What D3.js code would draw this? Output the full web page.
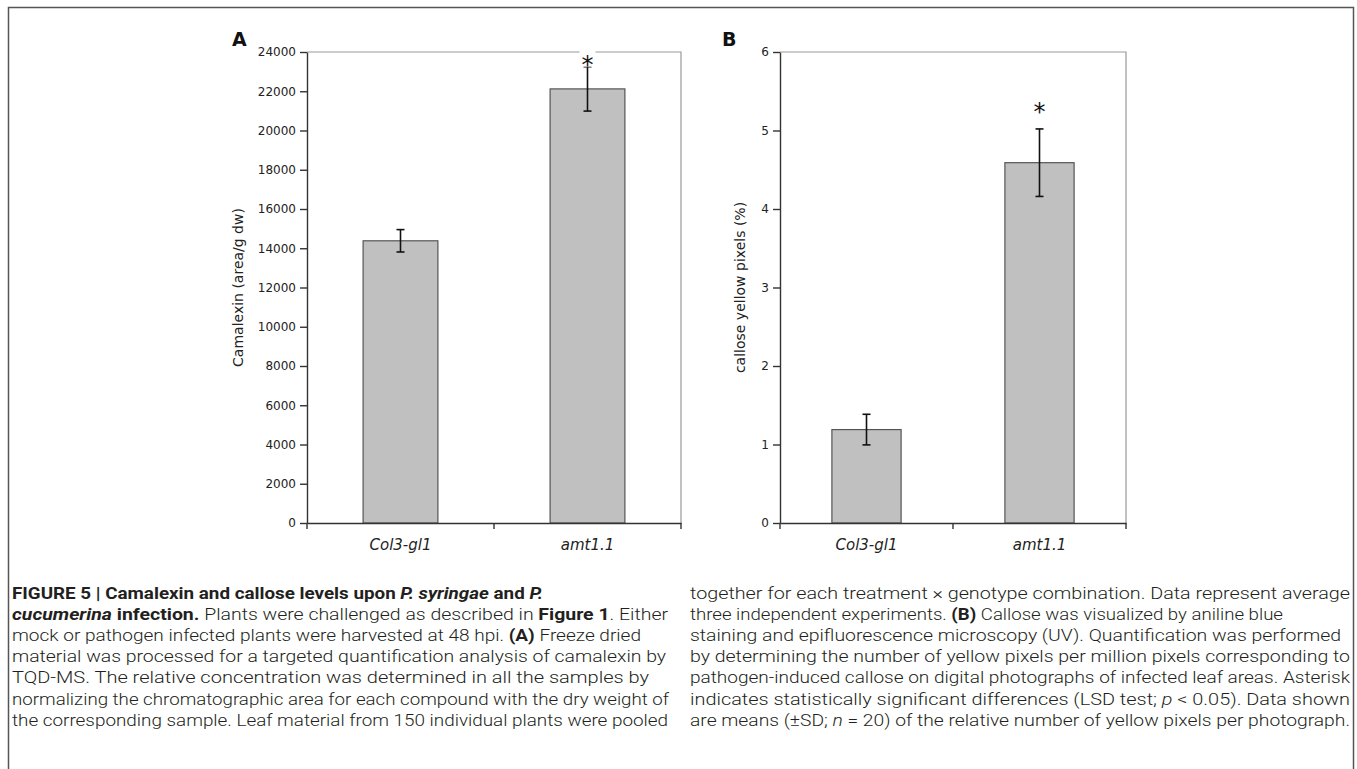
<!DOCTYPE html>
<html>
<head>
<meta charset="utf-8">
<title>Figure 5 - Camalexin and callose levels</title>
<script src="https://d3js.org/d3.v7.min.js"></script>
<style>
  body { margin: 0; background: #fff; }
  svg text { font-family: "DejaVu Sans", sans-serif; }
  .caption text { font-family: Roboto, "Liberation Sans", sans-serif; fill: #231f20; font-size: 17px; }
</style>
</head>
<body>
<div id="chart"></div>
<script>
// data
const categories = ["Col3-gl1", "amt1.1"];
const camalexinMean = [14380, 22120];
const camalexinSD = [570, 1130];
const calloseMean = [1.19, 4.59];
const calloseSD = [0.195, 0.43];
const significant = [false, true];
const camalexinTicks = [0, 2000, 4000, 6000, 8000, 10000, 12000, 14000, 16000, 18000, 20000, 22000, 24000];
const calloseTicks = [0, 1, 2, 3, 4, 5, 6];

// caption, one entry per printed line: [style, text] runs
const captionLeft = [
  [["b", "FIGURE 5 | Camalexin and callose levels upon "], ["bi", "P. syringae"], ["b", " and "], ["bi", "P."]],
  [["bi", "cucumerina"], ["b", " infection."], ["n", " Plants were challenged as described in "], ["b", "Figure 1"], ["n", ". Either"]],
  [["n", "mock or pathogen infected plants were harvested at 48 hpi. "], ["b", "(A)"], ["n", " Freeze dried"]],
  [["n", "material was processed for a targeted quantification analysis of camalexin by"]],
  [["n", "TQD-MS. The relative concentration was determined in all the samples by"]],
  [["n", "normalizing the chromatographic area for each compound with the dry weight of"]],
  [["n", "the corresponding sample. Leaf material from 150 individual plants were pooled"]]
];
const captionRight = [
  [["n", "together for each treatment \u00d7 genotype combination. Data represent average"]],
  [["n", "three independent experiments. "], ["b", "(B)"], ["n", " Callose was visualized by aniline blue"]],
  [["n", "staining and epifluorescence microscopy (UV). Quantification was performed"]],
  [["n", "by determining the number of yellow pixels per million pixels corresponding to"]],
  [["n", "pathogen-induced callose on digital photographs of infected leaf areas. Asterisk"]],
  [["n", "indicates statistically significant differences (LSD test; "], ["i", "p"], ["n", " < 0.05). Data shown"]],
  [["n", "are means (\u00b1SD; "], ["i", "n"], ["n", " = 20) of the relative number of yellow pixels per photograph."]]
];
// printed width of each caption line
const captionLeftWidths = [531, 656, 629, 654, 637, 657, 656];
const captionRightWidths = [660, 593, 651, 660, 660, 660, 660];

const width = 1357, height = 769;

const svg = d3.select("#chart").append("svg")
  .attr("width", width)
  .attr("height", height);

// outer frame of the figure
svg.append("rect")
  .attr("x", 8.5).attr("y", 7.5)
  .attr("width", 1345).attr("height", 800)
  .attr("fill", "none")
  .attr("stroke", "#555")
  .attr("stroke-width", 1.5);

const panels = [
  { letter: "A", label: "Camalexin (area/g dw)", means: camalexinMean, sd: camalexinSD,
    ticks: camalexinTicks, max: 24000, left: 307, right: 681, top: 52, bottom: 523,
    letterX: 232, labelX: 243, starGap: 8 },
  { letter: "B", label: "callose yellow pixels (%)", means: calloseMean, sd: calloseSD,
    ticks: calloseTicks, max: 6, left: 780, right: 1126, top: 52, bottom: 523,
    letterX: 722, labelX: 745, starGap: 23 }
];

panels.forEach(p => {
  const g = svg.append("g");

  const x = d3.scaleBand().domain(categories).range([p.left, p.right]);
  const y = d3.scaleLinear().domain([0, p.max]).range([p.bottom, p.top]);
  const barW = x.bandwidth() * 0.4;

  // top and right border of plot area
  g.append("path")
    .attr("d", `M${p.left},${p.top}H${p.right}V${p.bottom}`)
    .attr("fill", "none")
    .attr("stroke", "#999")
    .attr("stroke-width", 1.2);

  // bars
  g.selectAll(".bar")
    .data(categories)
    .join("rect")
    .attr("class", "bar")
    .attr("x", d => x(d) + (x.bandwidth() - barW) / 2)
    .attr("y", (d, i) => y(p.means[i]))
    .attr("width", barW)
    .attr("height", (d, i) => y(0) - y(p.means[i]))
    .attr("fill", "#c0c0c0")
    .attr("stroke", "#555")
    .attr("stroke-width", 1.2);

  // error bars
  const cx = d => x(d) + x.bandwidth() / 2;
  const err = g.selectAll(".err")
    .data(categories)
    .join("g")
    .attr("class", "err")
    .attr("stroke", "#111")
    .attr("stroke-width", 1.6);
  err.append("line")
    .attr("x1", cx).attr("x2", cx)
    .attr("y1", (d, i) => y(p.means[i] - p.sd[i]))
    .attr("y2", (d, i) => y(p.means[i] + p.sd[i]));
  [-1, 1].forEach(s => {
    err.append("line")
      .attr("x1", d => cx(d) - 4).attr("x2", d => cx(d) + 4)
      .attr("y1", (d, i) => y(p.means[i] + s * p.sd[i]))
      .attr("y2", (d, i) => y(p.means[i] + s * p.sd[i]));
  });

  // significance asterisks
  categories.forEach((c, i) => {
    if (!significant[i]) return;
    const yc = y(p.means[i] + p.sd[i]) - p.starGap;
    g.append("rect")
      .attr("x", cx(c) - 8).attr("y", yc - 8)
      .attr("width", 16).attr("height", 16)
      .attr("fill", "#fff");
    g.append("text")
      .attr("x", cx(c))
      .attr("y", yc + 14)
      .attr("text-anchor", "middle")
      .attr("font-size", 24)
      .attr("fill", "#111")
      .text("*");
  });

  // y axis
  const yAxis = g.append("g")
    .attr("transform", `translate(${p.left},0)`)
    .call(d3.axisLeft(y).tickValues(p.ticks).tickSize(7).tickSizeOuter(0).tickPadding(4).tickFormat(d3.format("d")));
  yAxis.selectAll("path, line").attr("stroke", "#333").attr("stroke-width", 1.4);
  yAxis.selectAll("text").attr("font-size", 12).attr("fill", "#222")
    .attr("font-family", "DejaVu Sans, sans-serif");

  // x axis: labels at band centres, ticks at band edges
  const xAxis = g.append("g")
    .attr("transform", `translate(0,${p.bottom})`)
    .call(d3.axisBottom(x).tickSize(0).tickSizeOuter(0).tickPadding(16));
  xAxis.select(".domain").attr("stroke", "#333").attr("stroke-width", 1.4);
  xAxis.selectAll("text").attr("font-size", 15).attr("font-style", "italic").attr("fill", "#222")
    .attr("font-family", "DejaVu Sans, sans-serif");
  const edges = categories.map(c => x(c)).concat([p.right]);
  g.selectAll(".xtick")
    .data(edges)
    .join("line")
    .attr("class", "xtick")
    .attr("x1", d => d).attr("x2", d => d)
    .attr("y1", p.bottom).attr("y2", p.bottom + 6)
    .attr("stroke", "#333")
    .attr("stroke-width", 1.4);

  // y axis title
  g.append("text")
    .attr("transform", `translate(${p.labelX},${(p.top + p.bottom) / 2}) rotate(-90)`)
    .attr("text-anchor", "middle")
    .attr("font-size", 14)
    .attr("fill", "#222")
    .text(p.label);

  // panel letter
  g.append("text")
    .attr("x", p.letterX)
    .attr("y", 46)
    .attr("font-size", 19)
    .attr("font-weight", "bold")
    .attr("fill", "#111")
    .text(p.letter);
});

// caption
const cap = svg.append("g").attr("class", "caption");
function drawColumn(lines, widths, x0) {
  lines.forEach((runs, k) => {
    const t = cap.append("text")
      .attr("x", x0)
      .attr("y", 599 + k * 21.1)
      .attr("textLength", widths[k])
      .attr("lengthAdjust", "spacingAndGlyphs");
    runs.forEach(([s, txt]) => {
      t.append("tspan")
        .attr("font-weight", s.includes("b") ? "bold" : "300")
        .attr("font-style", s.includes("i") ? "italic" : "normal")
        .text(txt);
    });
  });
}
drawColumn(captionLeft, captionLeftWidths, 12);
drawColumn(captionRight, captionRightWidths, 690);
</script>
</body>
</html>
